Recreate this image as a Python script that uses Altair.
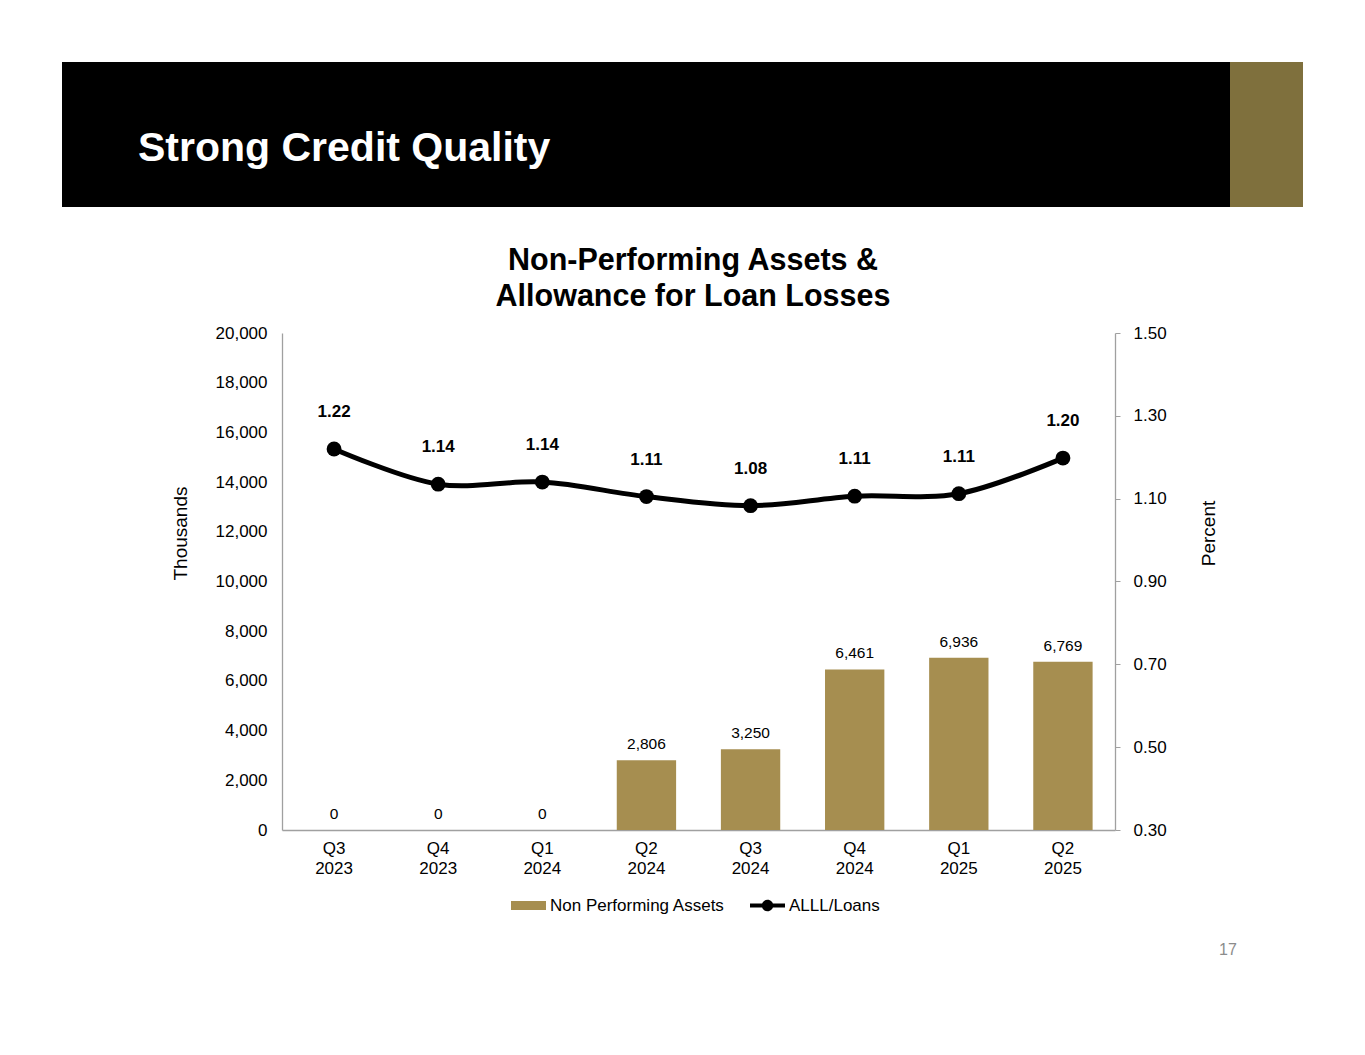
import altair as alt
import pandas as pd

# ---------------- data ----------------
quarters = ["Q3 2023", "Q4 2023", "Q1 2024", "Q2 2024",
            "Q3 2024", "Q4 2024", "Q1 2025", "Q2 2025"]
npa_values = [0, 0, 0, 2806, 3250, 6461, 6936, 6769]
npa_labels = ["0", "0", "0", "2,806", "3,250", "6,461", "6,936", "6,769"]
alll_values = [1.22, 1.135, 1.14, 1.105, 1.083, 1.106, 1.112, 1.198]
alll_labels = ["1.22", "1.14", "1.14", "1.11", "1.08", "1.11", "1.11", "1.20"]
series_names = ["Non Performing Assets", "ALLL/Loans"]
left_ticks = [0, 2000, 4000, 6000, 8000, 10000, 12000, 14000, 16000, 18000, 20000]
right_ticks = [0.30, 0.50, 0.70, 0.90, 1.10, 1.30, 1.50]
page_title = "Strong Credit Quality"
chart_title = ["Non-Performing Assets &", "Allowance for Loan Losses"]
page_number = "17"

# ---------------- style ----------------
FONT = "Liberation Sans"
GOLD = "#A68E50"
BANNER_GOLD = "#7F703D"
AXIS_GREY = "#A0A0A0"

bar_df = pd.DataFrame({"quarter": quarters, "value": npa_values,
                       "label": npa_labels, "series": series_names[0]})
line_df = pd.DataFrame({"quarter": quarters, "value": alll_values,
                        "label": alll_labels, "series": series_names[1]})
one = pd.DataFrame({"k": [0]})

x_enc = alt.X(
    "quarter:N", sort=quarters,
    scale=alt.Scale(paddingInner=0.43, paddingOuter=0.215),
    axis=alt.Axis(title=None, labelAngle=0, ticks=False, domainColor=AXIS_GREY,
                  domainWidth=1.3, labelPadding=10, labelFont=FONT, labelFontSize=17,
                  labelColor="#000000", labelLineHeight=20,
                  labelExpr="split(datum.label, ' ')"),
)

RECT_PATH = "M-1,-0.26L1,-0.26L1,0.26L-1,0.26Z"
LINE_DOT_PATH = ("M-1,-0.12L1,-0.12L1,0.12L-1,0.12Z "
                 "M-0.33,0A0.33,0.33 0 1,1 0.33,0A0.33,0.33 0 1,1 -0.33,0Z")

bar_color = alt.Color(
    "series:N",
    scale=alt.Scale(domain=[series_names[0]], range=[GOLD]),
    legend=alt.Legend(
        title=None, orient="none", direction="horizontal",
        legendX=229, legendY=555, padding=0, labelLimit=400,
        labelFont=FONT, labelFontSize=17, labelColor="#000000",
        symbolSize=1225, labelOffset=4, symbolType=RECT_PATH,
        symbolStrokeWidth=0, symbolOpacity=1,
    ),
)

line_legend = alt.StrokeDash(
    "series:N",
    scale=alt.Scale(domain=[series_names[1]], range=[[1, 0]]),
    legend=alt.Legend(
        title=None, orient="none", direction="horizontal",
        legendX=468, legendY=555, padding=0, labelLimit=400,
        labelFont=FONT, labelFontSize=17, labelColor="#000000",
        symbolSize=1225, labelOffset=4, symbolType=LINE_DOT_PATH,
        symbolFillColor="#000000", symbolStrokeColor="#000000",
        symbolStrokeWidth=0, symbolOpacity=1,
    ),
)

# ---------------- bars ----------------
y_left = alt.Y(
    "value:Q", scale=alt.Scale(domain=[0, 20000]),
    axis=alt.Axis(values=left_ticks, format=",", labelExpr="format(datum.value, ',')",
                  ticks=False, grid=False,
                  domainColor=AXIS_GREY, domainWidth=1.3, labelPadding=15,
                  labelFont=FONT, labelFontSize=17, labelColor="#000000",
                  title="Thousands", titleFont=FONT, titleFontSize=19,
                  titleFontWeight="normal", titleColor="#000000",
                  titleAngle=270, titleX=-102, titleY=200,
                  titleAlign="center", titleBaseline="middle"),
)
bars = alt.Chart(bar_df).mark_bar().encode(x=x_enc, y=y_left, color=bar_color)
bar_text = alt.Chart(bar_df).mark_text(
    dy=-16, font=FONT, fontSize=15.5, color="#000000", baseline="middle"
).encode(x=x_enc, y=y_left, text="label:N")
bar_layer = alt.layer(bars, bar_text)

# ---------------- line ----------------
y_right = alt.Y(
    "value:Q", scale=alt.Scale(domain=[0.3, 1.5]),
    axis=alt.Axis(orient="right", values=right_ticks, format=".2f", grid=False,
                  tickSize=5, tickColor=AXIS_GREY, domainColor=AXIS_GREY,
                  domainWidth=1.3, labelPadding=13, labelFont=FONT,
                  labelFontSize=17, labelColor="#000000",
                  title="Percent", titleFont=FONT, titleFontSize=19,
                  titleFontWeight="normal", titleColor="#000000",
                  titleAngle=270, titleX=93, titleY=200,
                  titleAlign="center", titleBaseline="middle"),
)
line = alt.Chart(line_df).mark_line(
    strokeWidth=5, interpolate="catmull-rom", color="#000000"
).encode(x=x_enc, y=y_right)
points = alt.Chart(line_df).mark_point(
    filled=True, size=220, opacity=1, color="#000000"
).encode(x=x_enc, y=y_right, strokeDash=line_legend)
line_text = alt.Chart(line_df).mark_text(
    dy=-37, font=FONT, fontSize=17, fontWeight="bold", color="#000000", baseline="middle"
).encode(x=x_enc, y=y_right, text="label:N")
line_layer = alt.layer(line, points, line_text)

# ---------------- page decoration ----------------
banner = alt.Chart(one).mark_rect(color="#000000").encode(
    x=alt.value(-220), x2=alt.value(948), y=alt.value(-271), y2=alt.value(-126))
banner_gold = alt.Chart(one).mark_rect(color=BANNER_GOLD).encode(
    x=alt.value(948), x2=alt.value(1021), y=alt.value(-271), y2=alt.value(-126))
banner_text = alt.Chart(one).mark_text(
    text=page_title, color="#FFFFFF", font=FONT, fontSize=41, fontWeight="bold",
    align="left", baseline="alphabetic"
).encode(x=alt.value(-144), y=alt.value(-172))
title_text = alt.Chart(one).mark_text(
    text=chart_title, color="#000000", font=FONT, fontSize=30.5, fontWeight="bold",
    align="center", baseline="alphabetic", lineHeight=36
).encode(x=alt.value(411), y=alt.value(-63))
page_num = alt.Chart(one).mark_text(
    text=page_number, color="#8C8C8C", font=FONT, fontSize=16,
    align="center", baseline="middle"
).encode(x=alt.value(946), y=alt.value(617))

chart = alt.layer(
    banner, banner_gold, banner_text, title_text, page_num, bar_layer, line_layer
).resolve_scale(y="independent").properties(
    width=833, height=497,
    autosize=alt.AutoSizeParams(type="none"),
    padding={"left": 274, "top": 325, "right": 242, "bottom": 217},
    background="#FFFFFF",
).configure_view(stroke=None)

chart.save("out.html", embed_options={"renderer": "svg", "actions": False})
